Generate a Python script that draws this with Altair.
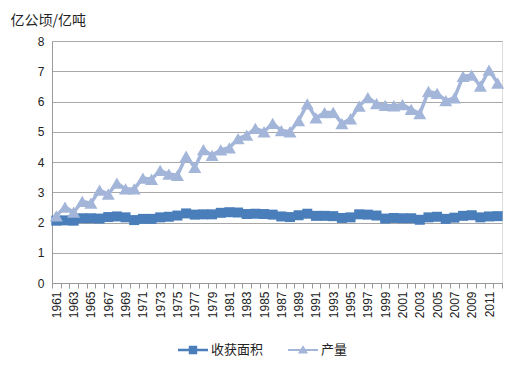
import altair as alt
import pandas as pd

years = list(range(1961, 2013))
series_names = ["收获面积", "产量"]
area = [2.06, 2.07, 2.06, 2.14, 2.14, 2.13, 2.18, 2.20, 2.17, 2.08,
        2.12, 2.12, 2.17, 2.19, 2.23, 2.30, 2.26, 2.27, 2.27, 2.32,
        2.34, 2.33, 2.28, 2.29, 2.28, 2.26, 2.20, 2.18, 2.24, 2.29,
        2.22, 2.22, 2.21, 2.15, 2.17, 2.27, 2.26, 2.23, 2.13, 2.15,
        2.14, 2.14, 2.09, 2.17, 2.19, 2.12, 2.16, 2.22, 2.24, 2.17,
        2.20, 2.21]
production = [2.22, 2.51, 2.34, 2.70, 2.64, 3.07, 2.94, 3.30, 3.11, 3.11,
              3.47, 3.43, 3.72, 3.60, 3.56, 4.19, 3.82, 4.41, 4.22, 4.40,
              4.47, 4.77, 4.89, 5.11, 5.00, 5.28, 5.04, 5.00, 5.37, 5.92,
              5.46, 5.63, 5.64, 5.27, 5.43, 5.85, 6.13, 5.93, 5.87, 5.86,
              5.90, 5.74, 5.60, 6.33, 6.27, 6.03, 6.12, 6.83, 6.87, 6.51,
              7.04, 6.61]

colors = ["#4A7EBB", "#A3B6D9"]

rows = []
for y, v in zip(years, area):
    rows.append({"year": y, "series": series_names[0], "value": v})
for y, v in zip(years, production):
    rows.append({"year": y, "series": series_names[1], "value": v})
df = pd.DataFrame(rows)

font_num = "Liberation Sans"
font_cjk = "Noto Sans CJK SC"

x_enc = alt.X(
    "year:O",
    bandPosition=0.5,
    scale=alt.Scale(type="band", paddingInner=0, paddingOuter=0),
    axis=alt.Axis(
        title=None,
        labelAngle=-90,
        labelExpr="datum.value % 2 == 1 ? datum.label : ''",
        labelOverlap=False,
        labelFont=font_num,
        labelFontSize=12,
        labelColor="#222222",
        labelPadding=3,
        tickBand="extent",
        tickSize=5,
        tickColor="#999999",
        domainColor="#999999",
        grid=False,
    ),
)
y_enc = alt.Y(
    "value:Q",
    scale=alt.Scale(domain=[0, 8], nice=False),
    axis=alt.Axis(
        values=[0, 1, 2, 3, 4, 5, 6, 7, 8],
        title="亿公顷/亿吨",
        titleAngle=0,
        titleAlign="left",
        titleBaseline="alphabetic",
        titleX=-42,
        titleY=-17,
        titleFont=font_cjk,
        titleFontSize=14,
        titleFontWeight="normal",
        titleColor="#222222",
        labelFont=font_num,
        labelFontSize=12,
        labelColor="#222222",
        labelPadding=8,
        ticks=False,
        domain=True,
        domainColor="#999999",
        gridColor="#A8A8A8",
        gridWidth=1,
    ),
)
color_scale = alt.Scale(domain=series_names, range=colors)

lines = alt.Chart(df).mark_line(strokeWidth=3.5).encode(
    x=x_enc, y=y_enc,
    color=alt.Color("series:N", scale=color_scale, legend=None),
    detail="series:N",
)

sq = alt.Chart(df).transform_filter(alt.datum.series == series_names[0]).mark_point(
    shape="square", filled=True, size=100, opacity=1
).encode(x=x_enc, y=y_enc, color=alt.Color("series:N", scale=color_scale, legend=None))

tri = alt.Chart(df).transform_filter(alt.datum.series == series_names[1]).mark_point(
    shape="triangle-up", filled=True, size=170, opacity=1
).encode(x=x_enc, y=y_enc, color=alt.Color("series:N", scale=color_scale, legend=None))

legend_paths = [
    "M-1,-0.09H1V0.09H-1Z M-0.28,-0.28H0.28V0.28H-0.28Z",
    "M-1,-0.07H1V0.07H-1Z M0,-0.32L0.34,0.24H-0.34Z",
]

def make_legend():
    return alt.Legend(
        title=None, orient="none", direction="horizontal",
        legendX=126, legendY=294,
        symbolOpacity=1, symbolSize=900, symbolStrokeWidth=0,
        labelFont=font_cjk, labelFontSize=13, labelColor="#222222",
        labelOffset=3, columnPadding=24,
    )

legend_layer = alt.Chart(df).mark_point(filled=True, size=0).encode(
    x=x_enc, y=y_enc,
    fill=alt.Fill("series:N", scale=alt.Scale(domain=series_names, range=colors),
                  legend=make_legend()),
    shape=alt.Shape("series:N", scale=alt.Scale(domain=series_names, range=legend_paths),
                    legend=make_legend()),
)

chart = alt.layer(lines, sq, tri, legend_layer).resolve_scale(
    fill="independent", shape="independent"
).properties(
    width=450, height=242,
    autosize=alt.AutoSizeParams(type="none"),
    padding={"left": 44, "top": 33, "right": 18, "bottom": 75},
).configure_view(stroke=None).configure(background="white")

chart.save("out.html", embed_options={"renderer": "svg", "actions": False})
